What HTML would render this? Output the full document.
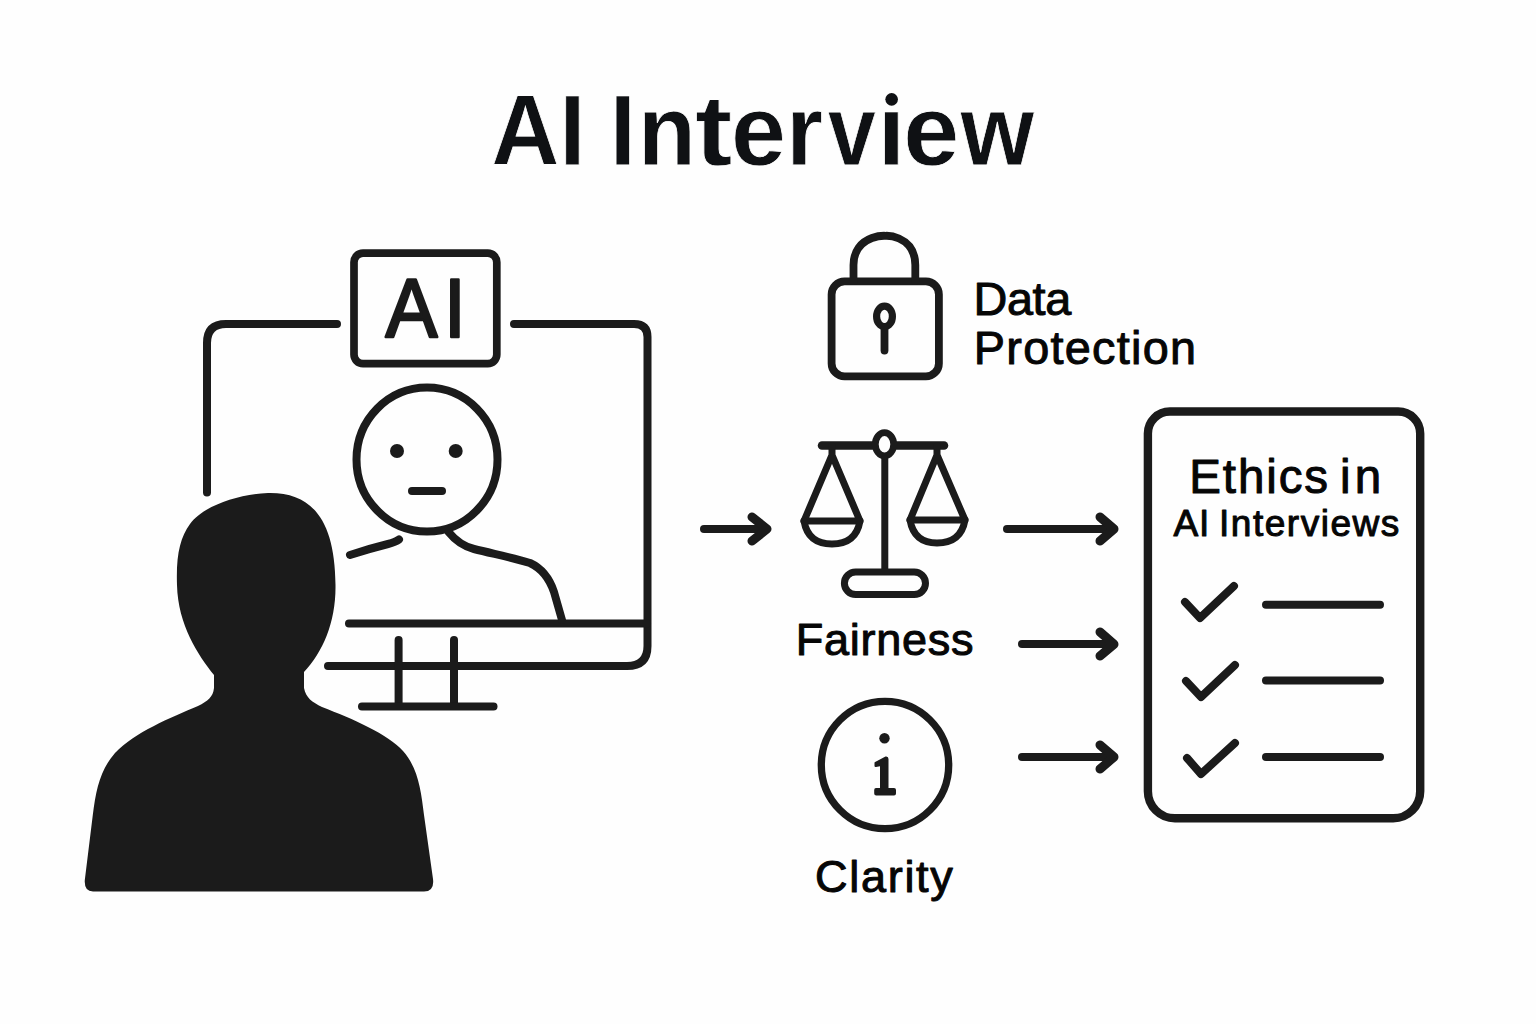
<!DOCTYPE html>
<html><head><meta charset="utf-8">
<style>
html,body{margin:0;padding:0;background:#fefefe;}
body{width:1536px;height:1024px;overflow:hidden;}
svg{display:block;}
text{font-family:"Liberation Sans",sans-serif;}
</style></head>
<body>
<svg width="1536" height="1024" viewBox="0 0 1536 1024">
<rect width="1536" height="1024" fill="#fefefe"/>
<g fill="none" stroke="#1b1b1b" stroke-width="8" stroke-linecap="round" stroke-linejoin="round">
  <path d="M207 492.5 L207 343 Q207 324 226 324 L337 324"/>
  <path d="M514 324 L634 324 Q647.5 324 647.5 337 L647.5 646 Q647.5 666 627 666 L328 666"/>
  <line x1="349" y1="623.5" x2="647" y2="623.5"/>
  <line x1="398.6" y1="640" x2="398.6" y2="706"/>
  <line x1="454" y1="640" x2="454" y2="706"/>
  <line x1="362" y1="706.5" x2="493.5" y2="706.5"/>
  <rect x="354" y="253.2" width="142.8" height="110.4" rx="9" stroke-width="7.7"/>
  <ellipse cx="427" cy="459.5" rx="70.5" ry="72"/>
  <line x1="412" y1="491" x2="442" y2="491"/>
  <path d="M350 555 C362 551 378 546.5 388 544 C394 542.5 397 541 399 539.5"/>
  <path d="M448.5 532 C455 540 462 546 474 549 C494 554 515 558 530 563 C543 569 550 580 554 592 L562 620"/>
</g>
<circle cx="891.65" cy="99.35" r="6.3" fill="#0f1114"/>
<g fill="#1b1b1b">
  <circle cx="397" cy="451" r="7"/>
  <circle cx="455.7" cy="451" r="7"/>
</g>
<path fill="#1b1b1b" d="M268 493 C312 492 335 520 335.5 585 C336 622 323 652 304 672 L304 688 C306 698 312 702 322 707 C353 719 388 734 403 751 C418 768 421 790 424 815 L433 879 Q434.5 891.5 424 891.5 L93 891.5 Q84 891.5 84.8 880 L92.8 815 C96 790 100 770 115 753 C135 732 170 718 198 706 C208 701 213 697 214 688 L214 675 C198 655 178 625 177 585 C176 555 180 538 190 524 C203 506 238 494 268 493 Z"/>
<g fill="none" stroke="#1b1b1b" stroke-width="8" stroke-linecap="round" stroke-linejoin="round">
  <path d="M704 529 L765 529"/>
  <path d="M752 517 L767 529 L752 541" stroke-width="9"/>
  <path d="M1007 529 L1111 529"/>
  <path d="M1100 517 L1114 529 L1100 541" stroke-width="9"/>
  <path d="M1022 644 L1111 644"/>
  <path d="M1100 632 L1114 644.2 L1100 656" stroke-width="9"/>
  <path d="M1022 757 L1111 757"/>
  <path d="M1100 745 L1114 757 L1100 769" stroke-width="9"/>
</g>
<g fill="none" stroke="#1b1b1b" stroke-width="7.8" stroke-linecap="round" stroke-linejoin="round">
  <rect x="831.6" y="281.4" width="107.3" height="95" rx="13"/>
  <path d="M853.5 281 L853.5 265 C853.5 251 861 242 872 238 Q879 235.5 885.5 235.8 Q892 235.5 899 238.5 C909 243 915.3 252 915.3 265 L915.3 281"/>
  <ellipse cx="884.5" cy="316.4" rx="7.9" ry="10.3" stroke-width="7.2"/>
  <line x1="884.5" y1="327" x2="884.5" y2="350.5"/>
</g>
<g fill="none" stroke="#1b1b1b" stroke-width="7" stroke-linecap="round" stroke-linejoin="round">
  <line x1="822" y1="445.5" x2="872" y2="445.5" stroke-width="8.5"/>
  <line x1="897" y1="445.5" x2="944" y2="445.5" stroke-width="8.5"/>
  <ellipse cx="884.5" cy="444.3" rx="9.2" ry="11.6" stroke-width="6.8"/>
  <line x1="884.8" y1="459" x2="884.8" y2="569"/>
  <rect x="844.4" y="571.9" width="81.1" height="22.6" rx="11.3"/>
  <path d="M832 446 L832 456 M832 455 L804 521 L860 521 Z"/>
  <path d="M804 521 Q808 544 832 544 Q856 544 860 521"/>
  <path d="M937 446 L937 456 M937 455 L910 520 L965 520 Z"/>
  <path d="M910 520 Q914 543 937 543 Q961 543 965 520"/>
</g>
<circle cx="885" cy="765" r="63.7" fill="none" stroke="#1b1b1b" stroke-width="7.3"/>
<g fill="#1b1b1b">
  <circle cx="884.5" cy="738.3" r="5.2"/>
  <path d="M874.5 762.5 L874.5 766 Q874.5 767.2 876 767 L880 766.2 L880 788 L876 788 Q874.2 788 874.2 790 L874.2 793.5 Q874.2 795.5 876.2 795.5 L894 795.5 Q896 795.5 896 793.5 L896 790 Q896 788 894 788 L888.5 788 L888.5 759 Q888.5 756 885.5 756.5 L877 761 Q874.5 762 874.5 762.5 Z"/>
</g>
<g fill="none" stroke="#1b1b1b" stroke-width="8.5" stroke-linecap="round" stroke-linejoin="round">
  <path d="M1169.9 411.5 L1398.2 411.5 A22 22 0 0 1 1420.2 433.5 L1420.2 791.3 A27 27 0 0 1 1393.2 818.3 L1174.9 818.3 A27 27 0 0 1 1147.9 791.3 L1147.9 433.5 A22 22 0 0 1 1169.9 411.5 Z" stroke-width="8.4"/>
  <path d="M1185 602 L1200 618 L1234 586" stroke-width="8"/>
  <path d="M1186 681 L1201 697 L1235 665" stroke-width="8"/>
  <path d="M1187 758 L1201 774 L1235 743" stroke-width="8"/>
</g>
<g fill="none" stroke="#1b1b1b" stroke-width="8" stroke-linecap="round">
  <line x1="1266" y1="604.8" x2="1380" y2="604.8"/>
  <line x1="1266" y1="680.5" x2="1380" y2="680.5"/>
  <line x1="1266" y1="757" x2="1380" y2="757"/>
</g>

<text id="t_title_0" transform="translate(491.30,165.40) scale(0.9381,1)" font-size="100.73" letter-spacing="0.000" font-weight="bold" fill="#0f1114" stroke="#fefefe" stroke-width="0.80">A</text>
<text id="t_title_1" transform="translate(559.60,165.40) scale(0.9248,1)" font-size="100.73" letter-spacing="0.000" font-weight="bold" fill="#0f1114" stroke="#fefefe" stroke-width="0.80">I</text>
<text id="t_title_2" transform="translate(609.80,165.40) scale(0.9338,1)" font-size="100.73" letter-spacing="0.000" font-weight="bold" fill="#0f1114" stroke="#fefefe" stroke-width="0.80">I</text>
<text id="t_title_3" transform="translate(637.90,165.40) scale(0.9410,1)" font-size="100.73" letter-spacing="0.000" font-weight="bold" fill="#0f1114" stroke="#fefefe" stroke-width="0.80">n</text>
<text id="t_title_4" transform="translate(695.00,165.40) scale(1.1130,1)" font-size="100.73" letter-spacing="0.000" font-weight="bold" fill="#0f1114" stroke="#fefefe" stroke-width="0.80">t</text>
<text id="t_title_5" transform="translate(731.00,165.40) scale(0.9814,1)" font-size="100.73" letter-spacing="0.000" font-weight="bold" fill="#0f1114" stroke="#fefefe" stroke-width="0.80">e</text>
<text id="t_title_6" transform="translate(786.30,165.40) scale(0.9356,1)" font-size="100.73" letter-spacing="0.000" font-weight="bold" fill="#0f1114" stroke="#fefefe" stroke-width="0.80">r</text>
<text id="t_title_7" transform="translate(827.70,165.40) scale(0.8593,1)" font-size="100.73" letter-spacing="0.000" font-weight="bold" fill="#0f1114" stroke="#fefefe" stroke-width="0.80">v</text>
<text id="t_title_8" transform="translate(877.50,165.40) scale(0.9877,1)" font-size="100.73" letter-spacing="0.000" font-weight="bold" fill="#0f1114" stroke="#fefefe" stroke-width="0.80">&#305;</text>
<text id="t_title_9" transform="translate(903.30,165.40) scale(1.0006,1)" font-size="100.73" letter-spacing="0.000" font-weight="bold" fill="#0f1114" stroke="#fefefe" stroke-width="0.80">e</text>
<text id="t_title_10" transform="translate(960.40,165.40) scale(0.9404,1)" font-size="100.73" letter-spacing="0.000" font-weight="bold" fill="#0f1114" stroke="#fefefe" stroke-width="0.80">w</text>
<text id="t_ai1" transform="translate(385.60,336.70) scale(0.9388,1)" font-size="83.00" letter-spacing="0.000" fill="#1a1a1a" stroke="#1a1a1a" stroke-width="2.60" stroke-linejoin="round">A</text>
<text id="t_ai2" transform="translate(444.00,336.70) scale(0.9433,1)" font-size="83.00" letter-spacing="0.000" fill="#1a1a1a" stroke="#1a1a1a" stroke-width="2.60" stroke-linejoin="round">I</text>
<text id="t_data" transform="translate(973.60,314.90) scale(1.0000,1)" font-size="46.80" letter-spacing="-0.400" fill="#060606" stroke="#060606" stroke-width="1.00" stroke-linejoin="round">Data</text>
<text id="t_prot" transform="translate(973.80,364.10) scale(1.0000,1)" font-size="46.80" letter-spacing="1.289" fill="#060606" stroke="#060606" stroke-width="1.00" stroke-linejoin="round">Protection</text>
<text id="t_fair" transform="translate(795.80,655.10) scale(1.0000,1)" font-size="45.06" letter-spacing="0.714" fill="#060606" stroke="#060606" stroke-width="1.00" stroke-linejoin="round">Fairness</text>
<text id="t_clar" transform="translate(815.00,892.10) scale(1.0000,1)" font-size="45.06" letter-spacing="1.700" fill="#060606" stroke="#060606" stroke-width="1.00" stroke-linejoin="round">Clarity</text>
<text id="t_eth1" transform="translate(1189.20,492.90) scale(1.0000,1)" font-size="47.53" letter-spacing="1.900" fill="#060606" stroke="#060606" stroke-width="1.00" stroke-linejoin="round">Ethics</text>
<text id="t_eth2" transform="translate(1340.00,492.90) scale(1.0000,1)" font-size="47.53" letter-spacing="4.250" fill="#060606" stroke="#060606" stroke-width="1.00" stroke-linejoin="round">in</text>
<text id="t_aiint1" transform="translate(1173.40,536.20) scale(1.0000,1)" font-size="37.06" letter-spacing="1.000" fill="#060606" stroke="#060606" stroke-width="1.00" stroke-linejoin="round">AI</text>
<text id="t_aiint2" transform="translate(1219.00,536.20) scale(1.0000,1)" font-size="37.06" letter-spacing="1.500" fill="#060606" stroke="#060606" stroke-width="1.00" stroke-linejoin="round">Interviews</text>
</svg>
</body></html>
